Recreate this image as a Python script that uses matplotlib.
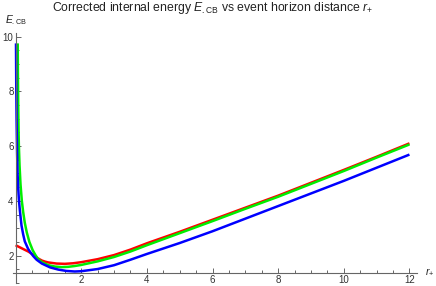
import matplotlib
matplotlib.use("Agg")
import matplotlib.pyplot as plt
from matplotlib.ticker import MultipleLocator

plt.rcParams.update({
    "font.family": ["Liberation Sans", "DejaVu Sans"],
    "mathtext.fontset": "custom",
    "mathtext.rm": "Liberation Sans",
    "mathtext.it": "Liberation Sans:italic",
    "mathtext.bf": "Liberation Sans:bold",
})

# values (r_+ , E_CB)
r_red = [0.0, 0.1, 0.2, 0.3, 0.4, 0.5, 0.6, 0.68, 0.8, 0.9, 1.0, 1.25, 1.5, 1.75, 2.0,
         2.5, 3.0, 3.5, 4.0, 5.0, 6.0, 7.0, 8.0, 9.0, 10.0, 11.0, 12.0]
e_red = [2.38, 2.32, 2.26, 2.20, 2.14, 2.06, 1.97, 1.90, 1.82, 1.78, 1.75, 1.71, 1.70,
         1.72, 1.76, 1.87, 2.02, 2.22, 2.45, 2.87, 3.31, 3.75, 4.19, 4.66, 5.13, 5.61, 6.10]

r_green = [0.065, 0.07, 0.08, 0.09, 0.10, 0.12, 0.15, 0.19, 0.23, 0.28, 0.34, 0.42,
           0.52, 0.60, 0.68, 0.80, 1.0, 1.2, 1.4, 1.6, 1.8, 2.0, 2.5, 3.0, 3.5, 4.0,
           5.0, 6.0, 7.0, 8.0, 9.0, 10.0, 11.0, 12.0]
e_green = [9.75, 8.8, 7.5, 6.6, 6.0, 5.3, 4.6, 4.0, 3.6, 3.2, 2.85, 2.5,
           2.2, 2.03, 1.88, 1.76, 1.65, 1.60, 1.58, 1.59, 1.62, 1.66, 1.79, 1.95, 2.15, 2.38,
           2.82, 3.26, 3.71, 4.15, 4.62, 5.09, 5.58, 6.06]

r_blue = [0.012, 0.02, 0.03, 0.045, 0.06, 0.08, 0.10, 0.13, 0.18, 0.23, 0.28, 0.38,
          0.44, 0.54, 0.64, 0.80, 1.05, 1.3, 1.55, 1.8, 2.0, 2.5, 3.0, 3.5, 4.0,
          5.0, 6.0, 7.0, 8.0, 9.0, 10.0, 11.0, 12.0]
e_blue = [9.75, 8.2, 7.0, 5.8, 5.0, 4.45, 4.05, 3.65, 3.1, 2.78, 2.52, 2.25,
          2.14, 1.98, 1.85, 1.71, 1.57, 1.49, 1.44, 1.42, 1.43, 1.51, 1.65, 1.85, 2.06,
          2.46, 2.89, 3.35, 3.81, 4.27, 4.73, 5.21, 5.69]

W, H = 436, 286
fig = plt.figure(figsize=(W / 100, H / 100), dpi=100)
# axes box in pixels: left 13, right 417, top 33, bottom 283
ax = fig.add_axes([13.3 / W, 1 - 283 / H, (417 - 13.3) / W, (283 - 33) / H])

lw = 1.8
ax.plot(r_red, e_red, color="#ff0000", lw=lw, solid_capstyle="butt")
ax.plot(r_green, e_green, color="#00ee00", lw=lw, solid_capstyle="butt")
ax.plot(r_blue, e_blue, color="#0000ff", lw=lw, solid_capstyle="butt")

ax.set_xlim(-0.07, 12.23)
ax.set_ylim(1.0, 10.13)

AX = "#666666"
ax.spines[["top", "right"]].set_visible(False)
ax.spines["left"].set_position(("data", 0))
ax.spines["bottom"].set_position(("data", 1.38))
for s in ("left", "bottom"):
    ax.spines[s].set_color(AX)
    ax.spines[s].set_linewidth(0.8)

ax.xaxis.set_major_locator(MultipleLocator(2))
ax.xaxis.set_minor_locator(MultipleLocator(0.5))
ax.yaxis.set_major_locator(MultipleLocator(2))
ax.yaxis.set_minor_locator(MultipleLocator(0.5))
ax.set_xticks([2, 4, 6, 8, 10, 12])
ax.tick_params(which="both", direction="in", color=AX, width=0.7,
               labelsize=7, labelcolor="#333333", pad=1.5)
ax.tick_params(which="major", length=3.5)
ax.tick_params(which="minor", length=2)

fig.text(213 / W, 1 - 8 / H, r"Corrected internal energy $E_{.\mathrm{CB}}$ vs event horizon distance $r_{+}$",
         ha="center", va="center", fontsize=8.8, color="#222222")
fig.text(5 / W, 1 - 20 / H, r"$E_{.\mathrm{CB}}$", ha="left", va="center", fontsize=7.5, color="#222222")
fig.text(425 / W, 1 - 272 / H, r"$r_{+}$", ha="left", va="center", fontsize=7.5, color="#222222")

fig.savefig("out.png", dpi=100)
